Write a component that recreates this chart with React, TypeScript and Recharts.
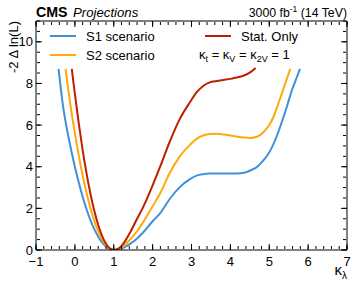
import React from 'react';
import { Line, LineChart, XAxis, YAxis } from 'recharts';

// S1 scenario (blue)
const s1K = [-0.42, -0.3, -0.2, -0.1, 0, 0.1, 0.2, 0.3, 0.4, 0.5, 0.6, 0.7, 0.8, 0.9, 1.0, 1.1, 1.2, 1.3, 1.41, 1.6, 1.76, 2.0, 2.19, 2.44, 2.7, 2.96, 3.13, 3.3, 3.47, 3.82, 4.16, 4.38, 4.51, 4.68, 4.85, 5.02, 5.2, 5.36, 5.48, 5.58, 5.7, 5.79];
const s1V = [8.7, 6.85, 5.76, 4.84, 4.0, 3.24, 2.56, 1.96, 1.44, 1.0, 0.64, 0.36, 0.16, 0.04, 0, 0.02, 0.07, 0.16, 0.28, 0.55, 0.85, 1.38, 1.76, 2.45, 3.02, 3.4, 3.57, 3.64, 3.67, 3.67, 3.67, 3.72, 3.82, 3.98, 4.3, 4.75, 5.5, 6.35, 7.05, 7.66, 8.25, 8.7];

// S2 scenario (orange)
const s2K = [-0.24, -0.1, 0, 0.1, 0.2, 0.3, 0.4, 0.5, 0.6, 0.7, 0.8, 0.9, 1.0, 1.1, 1.2, 1.3, 1.41, 1.6, 1.76, 2.0, 2.19, 2.44, 2.7, 2.96, 3.13, 3.3, 3.47, 3.65, 3.82, 4.0, 4.16, 4.35, 4.51, 4.7, 4.85, 5.0, 5.11, 5.2, 5.32, 5.43, 5.54];
const s2V = [8.7, 6.78, 5.6, 4.54, 3.58, 2.74, 2.02, 1.4, 0.9, 0.5, 0.22, 0.06, 0, 0.03, 0.13, 0.28, 0.48, 0.9, 1.35, 2.1, 2.71, 3.7, 4.5, 5.05, 5.34, 5.5, 5.57, 5.58, 5.55, 5.5, 5.45, 5.4, 5.38, 5.45, 5.66, 6.0, 6.4, 6.85, 7.5, 8.1, 8.7];

// Stat. only (red)
const statK = [-0.08, 0, 0.1, 0.2, 0.3, 0.4, 0.5, 0.6, 0.7, 0.8, 0.9, 1.0, 1.1, 1.2, 1.3, 1.41, 1.6, 1.76, 2.0, 2.19, 2.44, 2.7, 2.96, 3.13, 3.3, 3.47, 3.65, 3.82, 4.0, 4.16, 4.35, 4.51, 4.65];
const statV = [8.7, 7.5, 6.08, 4.8, 3.68, 2.7, 1.88, 1.2, 0.68, 0.3, 0.08, 0, 0.05, 0.2, 0.45, 0.8, 1.5, 2.07, 3.1, 3.99, 5.2, 6.3, 7.1, 7.57, 7.88, 8.05, 8.12, 8.17, 8.22, 8.29, 8.38, 8.53, 8.74];

const xTicks = [-1, 0, 1, 2, 3, 4, 5, 6, 7];
const xTickLabels = ['\u22121', '0', '1', '2', '3', '4', '5', '6', '7'];
const yTicks = [0, 2, 4, 6, 8, 10];
const xMinor = Array.from({ length: 41 }, (_, i) => -1 + i * 0.2);
const yMinor = Array.from({ length: 23 }, (_, i) => i * 0.5);

const series = [
  { name: 'S1 scenario', color: '#3f90da', k: s1K, v: s1V },
  { name: 'S2 scenario', color: '#ffa90e', k: s2K, v: s2V },
  { name: 'Stat. Only', color: '#bd1f01', k: statK, v: statV },
];

// chart-level rows so every axis has something to build its scale from
const frameRows = s1K.map((k, i) => ({ k, v: s1V[i] }));

const FONT = '"Liberation Sans", Arial, Helvetica, sans-serif';
const W = 357;
const H = 286;

// mirrored axes only used to draw inward tick marks (and the top/right frame)
const tickAxis = (id: string, orientation: any, ticks: number[], size: number, line: boolean) => (
  <XAxis
    key={id}
    xAxisId={id}
    orientation={orientation}
    mirror
    type='number'
    dataKey='k'
    domain={[-1, 7]}
    allowDataOverflow
    ticks={ticks}
    interval={0}
    tick={() => null}
    tickSize={size}
    tickLine={{ stroke: '#000', strokeWidth: 1 }}
    axisLine={line ? { stroke: '#000', strokeWidth: 1 } : false}
    height={1}
  />
);

const tickYAxis = (id: string, orientation: any, ticks: number[], size: number, line: boolean) => (
  <YAxis
    key={id}
    yAxisId={id}
    orientation={orientation}
    mirror
    type='number'
    dataKey='v'
    domain={[0, 11]}
    allowDataOverflow
    ticks={ticks}
    interval={0}
    tick={() => null}
    tickSize={size}
    tickLine={{ stroke: '#000', strokeWidth: 1 }}
    axisLine={line ? { stroke: '#000', strokeWidth: 1 } : false}
    width={1}
  />
);

export default function App() {
  return (
    <div style={{ position: 'absolute', left: 0, top: 0, width: W, height: H, background: '#fff', fontFamily: FONT }}>
      <LineChart width={W} height={H} data={frameRows} margin={{ top: 21, right: 10, bottom: 16, left: 0 }}>
        <XAxis
          xAxisId='x'
          type='number'
          dataKey='k'
          domain={[-1, 7]}
          allowDataOverflow
          ticks={xTicks}
          interval={0}
          tickFormatter={(t: number) => xTickLabels[xTicks.indexOf(t)] ?? String(t)}
          tick={{ fill: '#000', fontSize: 13, fontFamily: FONT }}
          tickLine={false}
          tickSize={4}
          tickMargin={3}
          axisLine={{ stroke: '#000', strokeWidth: 1 }}
          height={20}
        />
        <YAxis
          yAxisId='y'
          type='number'
          domain={[0, 11]}
          allowDataOverflow
          ticks={yTicks}
          interval={0}
          tick={{ fill: '#000', fontSize: 13, fontFamily: FONT }}
          tickLine={false}
          tickSize={2}
          tickMargin={1}
          axisLine={{ stroke: '#000', strokeWidth: 1 }}
          width={36}
        />
        {tickAxis('xbM', 'bottom', xTicks, 6, false)}
        {tickAxis('xbm', 'bottom', xMinor, 3, false)}
        {tickAxis('xtM', 'top', xTicks, 6, true)}
        {tickAxis('xtm', 'top', xMinor, 3, false)}
        {tickYAxis('ylM', 'left', yTicks, 6, false)}
        {tickYAxis('ylm', 'left', yMinor, 3, false)}
        {tickYAxis('yrM', 'right', yTicks, 6, true)}
        {tickYAxis('yrm', 'right', yMinor, 3, false)}
        {series.map((s) => (
          <Line
            key={s.name}
            xAxisId='x'
            yAxisId='y'
            data={s.k.map((k, i) => ({ k, v: s.v[i] }))}
            dataKey='v'
            type='monotone'
            stroke={s.color}
            strokeWidth={2}
            dot={false}
            activeDot={false}
            isAnimationActive={false}
          />
        ))}
      </LineChart>

      <svg width={W} height={H} style={{ position: 'absolute', left: 0, top: 0, pointerEvents: 'none' }} fontFamily={FONT}>
        {/* header */}
        <text x={36} y={16.5} fontSize={14.2} fontWeight='bold'>CMS</text>
        <text x={73} y={16.5} fontSize={13.2} fontStyle='italic'>Projections</text>
        <text x={347} y={16.5} fontSize={12.3} textAnchor='end'>
          3000 fb<tspan fontSize={8.5} dy={-5}>-1</tspan>
          <tspan dy={5}> (14 TeV)</tspan>
        </text>

        {/* legend */}
        {series.map((s, i) => {
          const col = i === 2 ? 1 : 0;
          const row = i === 2 ? 0 : i;
          const lx = col === 0 ? 50 : 205;
          const ly = 36 + row * 19;
          return (
            <g key={s.name}>
              <line x1={lx} x2={lx + 26} y1={ly} y2={ly} stroke={s.color} strokeWidth={2} />
              <text x={lx + 36} y={ly + 4.6} fontSize={13}>{s.name}</text>
            </g>
          );
        })}
        <text x={199} y={59} fontSize={13}>
          κ<tspan fontSize={9} dy={3}>t</tspan>
          <tspan dy={-3}> = κ</tspan>
          <tspan fontSize={9} dy={3}>V</tspan>
          <tspan dy={-3}> = κ</tspan>
          <tspan fontSize={9} dy={3}>2V</tspan>
          <tspan dy={-3}> = 1</tspan>
        </text>

        {/* axis titles */}
        <text transform='translate(18,21) rotate(-90)' textAnchor='end' fontSize={13}>-2 Δ ln(L)</text>
        <text x={347} y={275} textAnchor='end' fontSize={15}>
          κ<tspan fontSize={10} dy={4}>λ</tspan>
        </text>
      </svg>
    </div>
  );
}
